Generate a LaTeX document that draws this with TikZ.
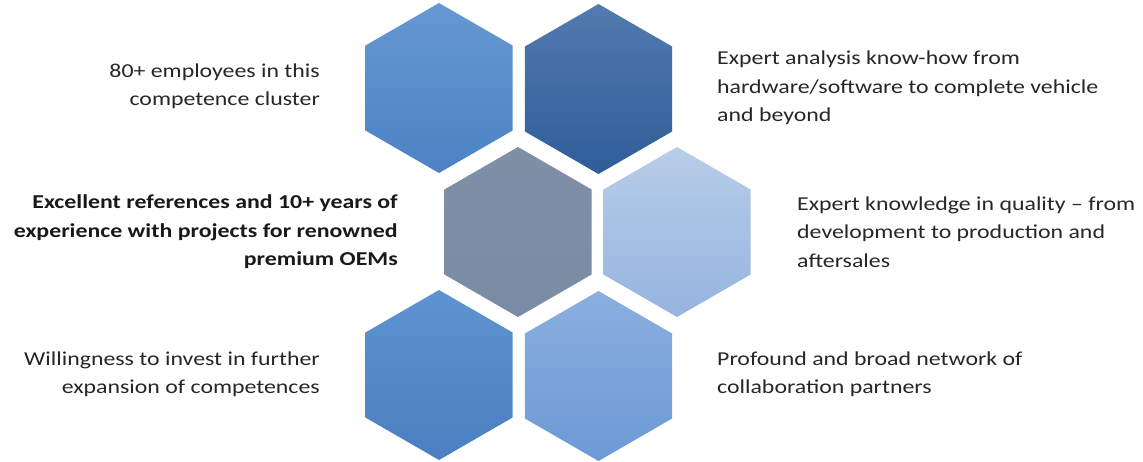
\documentclass[tikz,border=0pt]{standalone}
\usepackage{fontspec}
\setmainfont{Carlito}[FakeStretch=1.21]
\usetikzlibrary{shapes.geometric}
\definecolor{tlTop}{HTML}{6699D2}
\definecolor{tlBot}{HTML}{4C82C4}
\definecolor{trTop}{HTML}{527BAF}
\definecolor{trBot}{HTML}{2E5D98}
\definecolor{ceTop}{HTML}{7F8FA6}
\definecolor{ceBot}{HTML}{7A8BA5}
\definecolor{rmTop}{HTML}{B8CDE8}
\definecolor{rmBot}{HTML}{95B4DF}
\definecolor{blTop}{HTML}{5E93D1}
\definecolor{blBot}{HTML}{4A7FC1}
\definecolor{brTop}{HTML}{8BAEDF}
\definecolor{brBot}{HTML}{6C9AD6}
\definecolor{txt}{HTML}{262626}
\tikzstyle{hexa} = [regular polygon, regular polygon sides=6, regular polygon rotate=30, minimum size=170pt, inner sep=0pt, outer sep=0pt]
\tikzstyle{note} = [inner sep=0pt, text=txt, font=\fontsize{19.7}{28.5}\selectfont]

\begin{document}
\begin{tikzpicture}[x=1pt,y=-1pt]
    \useasboundingbox (0,0) rectangle (1143,461);
    \node [hexa, top color=tlTop, bottom color=tlBot] at (439,88) (tl) {};
    \node [hexa, top color=trTop, bottom color=trBot] at (598.5,89) (tr) {};
    \node [hexa, top color=ceTop, bottom color=ceBot] at (518,232) (ce) {};
    \node [hexa, top color=rmTop, bottom color=rmBot] at (677,232) (rm) {};
    \node [hexa, top color=blTop, bottom color=blBot] at (439,375) (bl) {};
    \node [hexa, top color=brTop, bottom color=brBot] at (598.5,376) (br) {};
    \node [note, anchor=east, align=right] at (320,86) (tltext) {80+ employees in this\\competence cluster};
    \node [note, anchor=west, align=left] at (717,88) (trtext) {Expert analysis know-how from\\hardware/software to complete vehicle\\and beyond};
    \node [note, anchor=east, align=right, font=\fontsize{19.7}{28.5}\selectfont\bfseries, text=black!90] at (398,232) (cetext) {Excellent references and 10+ years of\\experience with projects for renowned\\premium OEMs};
    \node [note, anchor=west, align=left] at (797,232) (rmtext) {Expert knowledge in quality -- from\\development to production and\\aftersales};
    \node [note, anchor=east, align=right] at (320,374) (bltext) {Willingness to invest in further\\expansion of competences};
    \node [note, anchor=west, align=left] at (717,374) (brtext) {Profound and broad network of\\collaboration partners};
\end{tikzpicture}
\end{document}
